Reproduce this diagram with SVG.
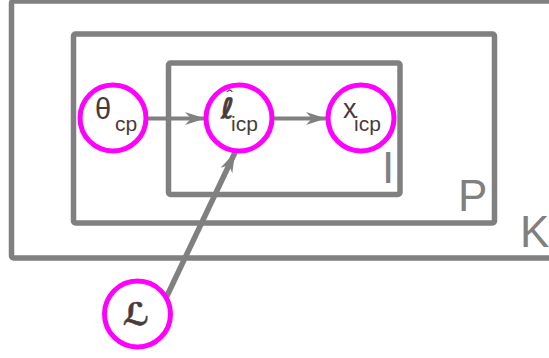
<svg xmlns="http://www.w3.org/2000/svg" width="549" height="358" viewBox="0 0 549 358">
<defs>
<style>
.plate{fill:none;stroke:#808080;stroke-width:5.5;stroke-linejoin:round}
.plab{fill:#808080;font-family:"Liberation Sans",Arial,sans-serif;font-size:44px}
.node{fill:#ffffff;stroke:#ff00ff;stroke-width:5}
.lab{fill:#4a3b3b;font-family:"Liberation Sans",Arial,sans-serif;font-size:27px}
.sub{font-size:21px;font-style:normal;font-weight:normal;font-family:"Liberation Sans",Arial,sans-serif;stroke:none}
.script{font-family:"DejaVu Serif","DejaVu Sans",serif;font-style:italic;font-weight:bold;stroke:#4a3b3b;stroke-width:0.6}
.edge{fill:none;stroke:#808080;stroke-width:4}
</style>
<marker id="arr" markerUnits="userSpaceOnUse" markerWidth="24" markerHeight="16" viewBox="-22 -8 24 16" refX="0" refY="0" orient="auto">
<path d="M0,0 L-20,-6.5 L-14,0 L-20,6.5 Z" fill="#808080"/>
</marker>
</defs>
<rect width="549" height="358" fill="#ffffff"/>
<g id="plate-K">
<rect class="plate" x="11.5" y="1" width="560" height="257" rx="2"/>
<text class="plab" x="520" y="247">K</text>
</g>
<g id="plate-P">
<rect class="plate" x="73.5" y="34" width="421" height="189" rx="2"/>
<text class="plab" x="458" y="211">P</text>
</g>
<g id="plate-I">
<rect class="plate" x="168.5" y="63" width="231.5" height="131.5" rx="2"/>
<text class="plab" x="382" y="183">I</text>
</g>
<g id="connectors">
<line class="edge" x1="148" y1="118.5" x2="205" y2="118.5" marker-end="url(#arr)"/>
<line class="edge" x1="274" y1="118.5" x2="326" y2="118.5" marker-end="url(#arr)"/>
<line class="edge" style="stroke-width:5.5" x1="166" y1="298" x2="235" y2="152.5" marker-end="url(#arr)"/>
</g>
<g id="node-theta">
<circle class="node" cx="113" cy="118" r="33"/>
<text class="lab" x="95" y="119" style="font-size:29px">θ<tspan class="sub" x="115" y="131">cp</tspan></text>
</g>
<g id="node-ell">
<circle class="node" cx="239" cy="118" r="33"/>
<text class="lab" x="226.5" y="103" style="font-size:19px">ˆ</text>
<text class="lab" x="221" y="118"><tspan class="script" style="font-size:28px">ℓ</tspan><tspan class="sub" x="231" y="131">icp</tspan></text>
</g>
<g id="node-x">
<circle class="node" cx="361" cy="118" r="33"/>
<text class="lab" x="343" y="118">x<tspan class="sub" x="354" y="131">icp</tspan></text>
</g>
<g id="node-L">
<circle class="node" cx="137.5" cy="314" r="33"/>
<text class="lab script" x="136" y="325" text-anchor="middle" style="font-size:31px">ℒ</text>
</g>
</svg>
